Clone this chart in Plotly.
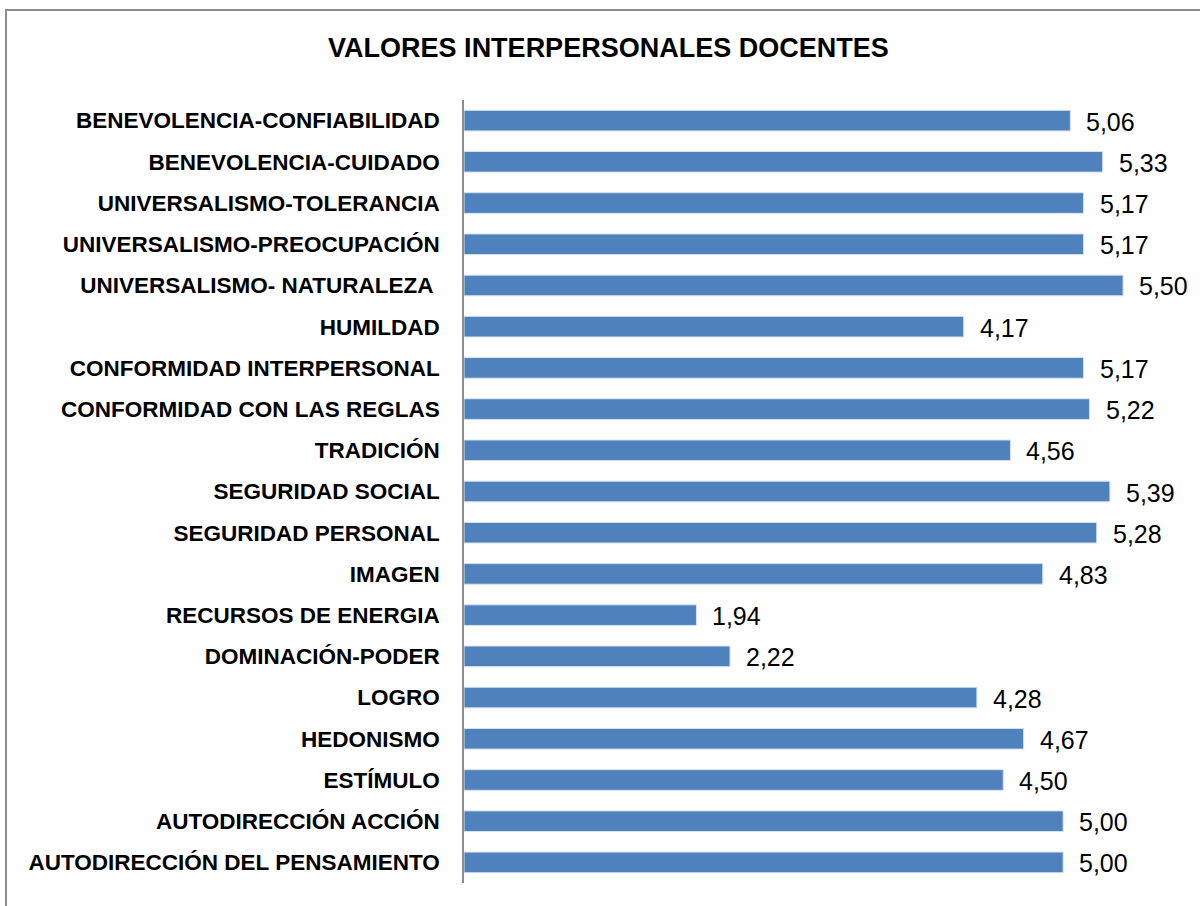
import plotly.graph_objects as go

TITLE = "VALORES INTERPERSONALES DOCENTES"

# top to bottom as in the picture
categorias = [
    "BENEVOLENCIA-CONFIABILIDAD",
    "BENEVOLENCIA-CUIDADO",
    "UNIVERSALISMO-TOLERANCIA",
    "UNIVERSALISMO-PREOCUPACIÓN",
    "UNIVERSALISMO- NATURALEZA\u00a0",
    "HUMILDAD",
    "CONFORMIDAD INTERPERSONAL",
    "CONFORMIDAD CON LAS REGLAS",
    "TRADICIÓN",
    "SEGURIDAD SOCIAL",
    "SEGURIDAD PERSONAL",
    "IMAGEN",
    "RECURSOS DE ENERGIA",
    "DOMINACIÓN-PODER",
    "LOGRO",
    "HEDONISMO",
    "ESTÍMULO",
    "AUTODIRECCIÓN ACCIÓN",
    "AUTODIRECCIÓN DEL PENSAMIENTO",
]
valores = [5.06, 5.33, 5.17, 5.17, 5.50, 4.17, 5.17, 5.22, 4.56, 5.39,
           5.28, 4.83, 1.94, 2.22, 4.28, 4.67, 4.50, 5.00, 5.00]
etiquetas = [f"{v:.2f}".replace(".", ",") for v in valores]

BAR_COLOR = "#4F81BD"
LABEL_FONT = "Liberation Sans, Arial, sans-serif"

fig = go.Figure(go.Bar(
    x=valores,
    y=categorias,
    orientation="h",
    marker=dict(color=BAR_COLOR, line=dict(color="#D6E1EF", width=1)),
    width=0.5,
    hoverinfo="skip",
))

# value labels right of each bar
for cat, val, txt in zip(categorias, valores, etiquetas):
    fig.add_annotation(x=val, y=cat, text=txt, showarrow=False,
                       xanchor="left", yanchor="middle", xshift=14, yshift=-1,
                       font=dict(family=LABEL_FONT, size=25, color="black"))

# outer chart border
fig.add_shape(type="rect", xref="paper", yref="paper",
              x0=-0.637, x1=1.05, y0=-0.05, y1=1.115,
              line=dict(color="#8C8C8C", width=2), layer="below")

fig.update_layout(
    width=1200, height=906,
    margin=dict(l=464, r=17, t=100, b=23),
    paper_bgcolor="white",
    plot_bgcolor="white",
    showlegend=False,
    title=dict(text=f"<b>{TITLE}</b>", x=0.507, xanchor="center", y=0.947, yanchor="middle",
               font=dict(family=LABEL_FONT, size=27, color="black")),
    xaxis=dict(range=[0, 6], visible=False, fixedrange=True),
    yaxis=dict(autorange="reversed", showgrid=False, ticks="", fixedrange=True,
               showline=True, linecolor="#8C8C8C", linewidth=1.5,
               ticklabelstandoff=18,
               tickfont=dict(family=LABEL_FONT, size=22.5, color="black", weight="bold")),
)

fig.write_html("out.html", config={"displayModeBar": False},
               post_script="document.body.style.margin='0';")
